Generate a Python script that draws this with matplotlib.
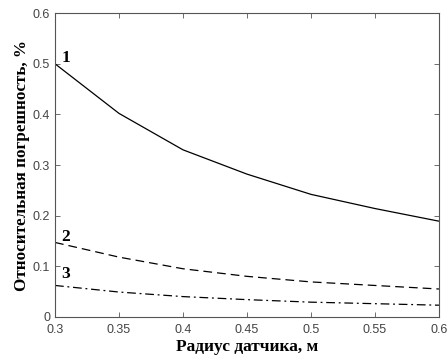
import numpy as np
import matplotlib.pyplot as plt

radius = [0.30, 0.35, 0.40, 0.45, 0.50, 0.55, 0.60]
err_1 = [0.500, 0.402, 0.330, 0.282, 0.242, 0.214, 0.189]
err_2 = [0.147, 0.118, 0.095, 0.080, 0.069, 0.062, 0.055]
err_3 = [0.062, 0.049, 0.040, 0.034, 0.029, 0.026, 0.023]

x_ticks = [0.3, 0.35, 0.4, 0.45, 0.5, 0.55, 0.6]
x_labels = ['0.3', '0.35', '0.4', '0.45', '0.5', '0.55', '0.6']
y_ticks = [0, 0.1, 0.2, 0.3, 0.4, 0.5, 0.6]
y_labels = ['0', '0.1', '0.2', '0.3', '0.4', '0.5', '0.6']


def main():
    fig = plt.figure(figsize=(4.47, 3.56), dpi=100)
    ax = fig.add_axes([0.123, 0.11, 0.859, 0.853])

    ax.plot(radius, err_1, color='black', linewidth=0.9, linestyle='-')
    ax.plot(radius, err_2, color='black', linewidth=0.9, linestyle=(0, (7, 4)))
    ax.plot(radius, err_3, color='black', linewidth=0.9, linestyle=(0, (7, 3, 1.5, 3)))

    lbl = dict(fontsize=12.5, fontweight='bold', family='Liberation Serif')
    ax.text(0.305, 0.503, '1', **lbl)
    ax.text(0.305, 0.150, '2', **lbl)
    ax.text(0.305, 0.077, '3', **lbl)

    ax.set_xlim(0.3, 0.6)
    ax.set_ylim(0, 0.6)
    ax.set_xticks(x_ticks)
    ax.set_xticklabels(x_labels)
    ax.set_yticks(y_ticks)
    ax.set_yticklabels(y_labels)
    ax.tick_params(direction='in', top=True, right=True, length=3.5,
                   width=0.6, labelsize=9, labelcolor='#444444', color='#555555')
    ax.tick_params(axis='x', pad=5)
    for lab in ax.get_xticklabels() + ax.get_yticklabels():
        lab.set_family('Liberation Sans')
    for sp in ax.spines.values():
        sp.set_color('#555555')
        sp.set_linewidth(0.8)

    ax.set_xlabel('Радиус датчика, м', fontsize=12.5, fontweight='bold',
                  family='Liberation Serif', labelpad=2)
    ax.set_ylabel('Относительная погрешность, %', fontsize=12.3, fontweight='bold',
                  family='Liberation Serif', labelpad=2)

    fig.savefig('out.png', dpi=100)


if __name__ == '__main__':
    main()
